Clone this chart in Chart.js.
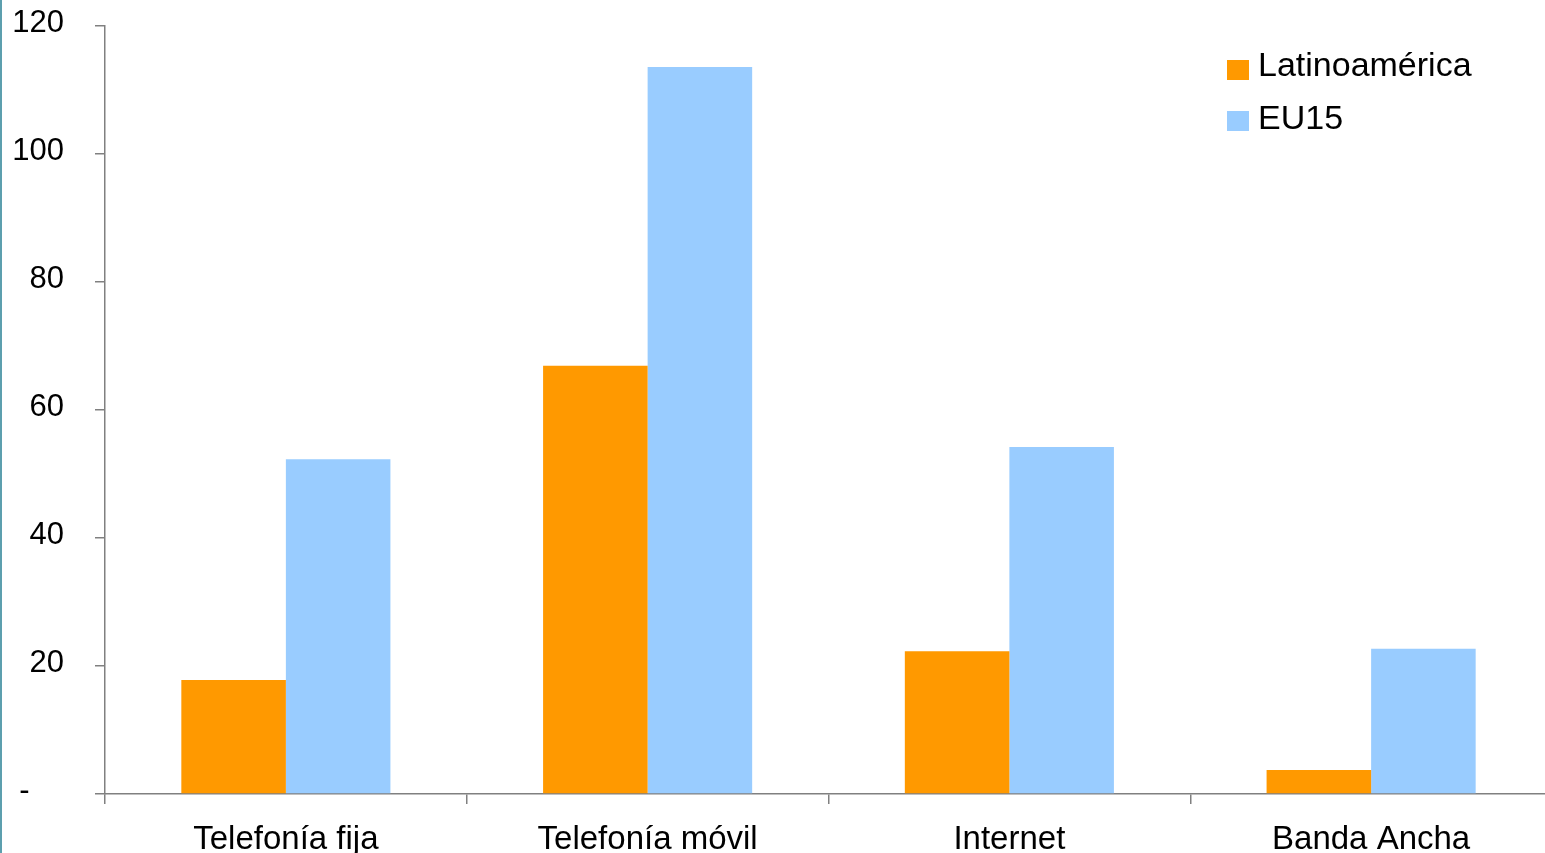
<!DOCTYPE html>
<html>
<head>
<meta charset="utf-8">
<script src="https://cdn.jsdelivr.net/npm/chart.js@4.4.1/dist/chart.umd.min.js"></script>
<style>
  html, body { margin: 0; padding: 0; background: #fff; overflow: hidden; width: 1545px; height: 853px; }
  #wrap { position: absolute; left: 0; top: 0; width: 1552px; height: 853px; }
  #edge { position: absolute; left: 0; top: 0; width: 2px; height: 853px; background: #5c9fae; z-index: 5; }
  .lg { position: absolute; font-family: 'Liberation Sans', Arial, sans-serif; font-size: 34px; line-height: 34px; color: #000; white-space: nowrap; }
  .sw { position: absolute; width: 22px; height: 20px; }
</style>
</head>
<body>
<div id="wrap"><canvas id="c" width="1552" height="853"></canvas></div>
<div id="edge"></div>
<div id="legend"></div>
<script>
const categories = ['Telefonía fija', 'Telefonía móvil', 'Internet', 'Banda Ancha'];
const seriesNames = ['Latinoamérica', 'EU15'];
const latinoamerica = [17.8, 66.9, 22.3, 3.75];
const eu15 = [52.3, 113.6, 54.2, 22.7];
const colors = ['#FF9900', '#99CCFF'];
const yTicks = [0, 20, 40, 60, 80, 100, 120];

const FONT = "'Liberation Sans', Arial, sans-serif";
const axisColor = '#808080';

const chart = new Chart(document.getElementById('c'), {
  type: 'bar',
  data: {
    labels: categories,
    datasets: [
      { label: seriesNames[0], data: latinoamerica, backgroundColor: colors[0], borderWidth: 0 },
      { label: seriesNames[1], data: eu15, backgroundColor: colors[1], borderWidth: 0 }
    ]
  },
  options: {
    responsive: false,
    animation: false,
    devicePixelRatio: 1,
    layout: { padding: { top: 26, right: 0, left: 0, bottom: 0 } },
    plugins: { legend: { display: false }, tooltip: { enabled: false } },
    datasets: { bar: { categoryPercentage: 0.578, barPercentage: 1.0 } },
    scales: {
      x: {
        grid: { display: true, drawOnChartArea: false, drawTicks: true, tickLength: 10, color: axisColor, lineWidth: 1.5, offset: true },
        border: { display: true, color: axisColor, width: 1.5 },
        ticks: { color: '#000', font: { family: FONT, size: 33 }, padding: 16 },
        afterFit: (s) => { s.height = 59; s.paddingLeft = 0; s.paddingRight = 0; }
      },
      y: {
        min: 0, max: 120,
        afterBuildTicks: (s) => { s.ticks = yTicks.map(v => ({ value: v })); },
        grid: { display: true, drawOnChartArea: false, drawTicks: true, tickLength: 10, color: axisColor, lineWidth: 1.5 },
        border: { display: true, color: axisColor, width: 1.5 },
        ticks: {
          color: '#000', font: { family: FONT, size: 31 }, padding: 31, labelOffset: -3,
          callback: (v) => v === 0 ? '-    ' : String(v)
        },
        afterFit: (s) => { s.width = 105; s.paddingTop = 0; s.paddingBottom = 0; }
      }
    }
  }
});

// HTML legend built from the chart's datasets
const legend = document.getElementById('legend');
const tops = [47, 100];
const swTops = [60, 111];
chart.data.datasets.forEach((ds, i) => {
  const sw = document.createElement('div');
  sw.className = 'sw';
  sw.style.left = '1227px';
  sw.style.top = swTops[i] + 'px';
  sw.style.background = ds.backgroundColor;
  legend.appendChild(sw);
  const t = document.createElement('div');
  t.className = 'lg';
  t.style.left = '1258px';
  t.style.top = tops[i] + 'px';
  t.textContent = ds.label;
  legend.appendChild(t);
});
</script>
</body>
</html>
